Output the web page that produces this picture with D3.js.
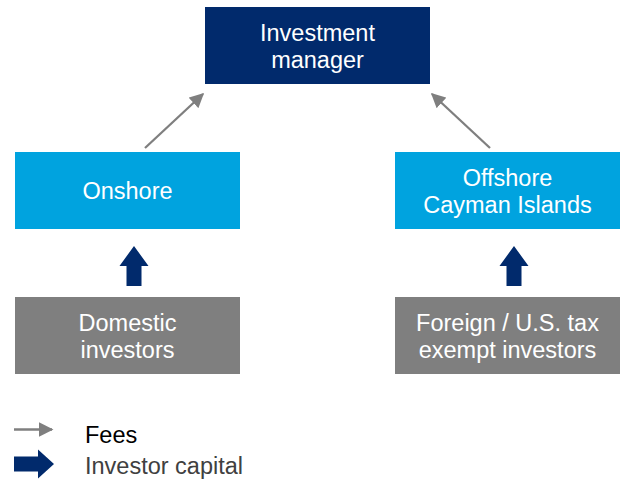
<!DOCTYPE html>
<html>
<head>
  <meta charset='utf-8'>
  <script src="https://d3js.org/d3.v7.min.js"></script>
  <style>
    body { margin: 0; background: #fff; }
    text { font-family: "Liberation Sans", Arial, sans-serif; }
  </style>
</head>
<body>
  <script type='text/javascript'>
    // Diagram content
    var columns = ['onshore', 'offshore'];
    var tiers = ['manager', 'fund', 'investors'];
    var managerLabel = ['Investment', 'manager'];
    var fundLabels = [['Onshore'], ['Offshore', 'Cayman Islands']];
    var investorLabels = [['Domestic', 'investors'], ['Foreign / U.S. tax', 'exempt investors']];
    var feeFlows = ['onshore', 'offshore'];      // fund -> manager
    var capitalFlows = ['onshore', 'offshore'];  // investors -> fund
    var legendLabels = ['Fees', 'Investor capital'];

    var width = 624, height = 479;
    var boxW = 225, boxH = 77;
    var navy = '#012A6C', sky = '#00A3DF', grey = '#7F7F7F';

    var svg = d3.select('body')
      .append('svg')
      .attr('width', width)
      .attr('height', height);

    // column / tier centres
    var x = d3.scalePoint().domain(columns).range([127.5, 507.5]);
    var y = d3.scalePoint().domain(tiers).range([45.5, 190.5 + 145]);
    var midX = (x('onshore') + x('offshore')) / 2;

    var defs = svg.append('defs');
    defs.append('marker')
      .attr('id', 'fee-head')
      .attr('viewBox', '0 0 10 10')
      .attr('refX', 9).attr('refY', 5)
      .attr('markerWidth', 6.5).attr('markerHeight', 6.3)
      .attr('markerUnits', 'strokeWidth')
      .attr('orient', 'auto')
      .append('path')
      .attr('d', 'M0,0 L10,5 L0,10 Z')
      .attr('fill', grey);

    function box(cx, cy, fill, lines) {
      var g = svg.append('g');
      g.append('rect')
        .attr('x', cx - boxW / 2).attr('y', cy - boxH / 2)
        .attr('width', boxW).attr('height', boxH)
        .attr('fill', fill);
      var lh = 27;
      g.selectAll('text')
        .data(lines)
        .enter().append('text')
        .attr('x', cx)
        .attr('y', function(d, i) { return cy + 8.5 + (i - (lines.length - 1) / 2) * lh; })
        .attr('text-anchor', 'middle')
        .attr('fill', '#fff')
        .style('font-size', '23.5px')
        .text(function(d) { return d; });
    }

    box(midX, y('manager'), navy, managerLabel);
    columns.forEach(function(c, i) {
      box(x(c), y('fund'), sky, fundLabels[i]);
      box(x(c), y('investors'), grey, investorLabels[i]);
    });

    // block arrow pointing up or right; tip at (tx, ty)
    function blockArrow(tx, ty, len, dir, hl) {
      var hw = 14.5, sw = 7.5;
      var pts = [[0, 0], [hl, -hw], [hl, -sw], [len, -sw], [len, sw], [hl, sw], [hl, hw]];
      var p = pts.map(function(q) {
        return dir === 'up' ? [tx + q[1], ty + q[0]] : [tx - q[0], ty + q[1]];
      });
      svg.append('path')
        .attr('d', 'M' + p.join('L') + 'Z')
        .attr('fill', navy);
    }

    // investor capital arrows
    capitalFlows.forEach(function(c) {
      blockArrow(x(c) + 6.5, y('fund') + boxH / 2 + 17, 40, 'up', 20);
    });

    // fee arrows
    feeFlows.forEach(function(c) {
      var s = c === 'onshore' ? 1 : -1;
      svg.append('line')
        .attr('x1', x(c) + s * 17.5).attr('y1', y('fund') - boxH / 2 - 4)
        .attr('x2', x(c) + s * 75.5).attr('y2', y('manager') + boxH / 2 + 10)
        .attr('stroke', grey)
        .attr('stroke-width', 2.3)
        .attr('marker-end', 'url(#fee-head)');
    });

    // legend
    svg.append('line')
      .attr('x1', 14).attr('y1', 429.5)
      .attr('x2', 52).attr('y2', 429.5)
      .attr('stroke', grey)
      .attr('stroke-width', 2.3)
      .attr('marker-end', 'url(#fee-head)');

    blockArrow(54, 464, 40, 'right', 16);

    svg.selectAll('.legend-label')
      .data(legendLabels)
      .enter().append('text')
      .attr('class', 'legend-label')
      .attr('x', 85)
      .attr('y', function(d, i) { return 443 + i * 31; })
      .attr('fill', function(d, i) { return i === 0 ? '#000' : '#404040'; })
      .style('font-size', '23.5px')
      .text(function(d) { return d; });
  </script>
</body>
</html>
